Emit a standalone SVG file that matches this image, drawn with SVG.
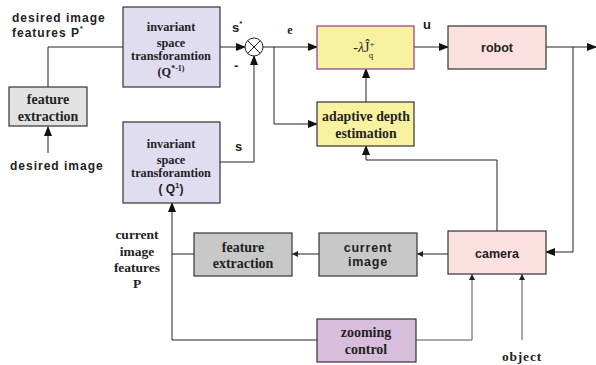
<svg xmlns="http://www.w3.org/2000/svg" width="596" height="365" viewBox="0 0 596 365">
<defs>
<style>
.box{stroke:#333;stroke-width:1.2}
.lav{fill:#e0ddf0}
.gray{fill:#c8c8c8}
.lgray{fill:#e2e2e2}
.yel{fill:#f8f2a0}
.pink{fill:#fde0e0}
.purp{fill:#d8bedc}
.ser{font-family:"Liberation Serif",serif;font-weight:bold;fill:#222;text-anchor:middle}
.san{font-family:"Liberation Sans",Arial,sans-serif;font-weight:bold;fill:#222}
.ln{fill:none;stroke:#222;stroke-width:1}
.lg{fill:none;stroke:#555;stroke-width:1}
</style>
<marker id="a" markerWidth="10" markerHeight="8" refX="9" refY="4" orient="auto" markerUnits="userSpaceOnUse">
<path d="M0,0 L10,4 L0,8 z" fill="#111"/>
</marker>
<marker id="s" markerWidth="6" markerHeight="6" refX="6" refY="3" orient="auto" markerUnits="userSpaceOnUse">
<path d="M0,0 L6,3 L0,6 z" fill="#222"/>
</marker>
</defs>

<g id="connectors">
<polyline class="ln" points="48,87 48,47 123,47"/>
<line class="ln" x1="48" y1="153" x2="48" y2="127" marker-end="url(#a)"/>
<line class="ln" x1="220" y1="47" x2="245" y2="47" marker-end="url(#a)"/>
<line class="ln" x1="263" y1="47" x2="317" y2="47" marker-end="url(#a)"/>
<polyline class="ln" points="274,47 274,124 317,124" marker-end="url(#a)"/>
<polyline class="ln" points="220,162 254,162 254,56" marker-end="url(#a)"/>
<line class="ln" x1="414" y1="47" x2="448" y2="47" marker-end="url(#a)"/>
<line class="ln" x1="546" y1="47" x2="596" y2="47" marker-end="url(#a)"/>
<polyline class="ln" points="573,47 573,252 546,252" marker-end="url(#a)"/>
<line class="ln" x1="366" y1="102" x2="366" y2="69" marker-end="url(#a)"/>
<polyline class="ln" points="497,231 497,160 366,160 366,146" marker-end="url(#a)"/>
<line class="ln" x1="448" y1="254" x2="417" y2="254" marker-end="url(#s)"/>
<line class="ln" x1="319" y1="254" x2="292" y2="254" marker-end="url(#s)"/>
<line class="ln" x1="194" y1="254" x2="172" y2="254"/>
<polyline class="ln" points="317,340 172,340 172,203" marker-end="url(#a)"/>
<polyline class="lg" points="416,340 472,340 472,274" marker-end="url(#s)"/>
<line class="lg" x1="522" y1="340" x2="522" y2="274" marker-end="url(#s)"/>
</g>

<g id="sum">
<circle cx="254" cy="47" r="9" fill="#fff" stroke="#222" stroke-width="1"/>
<line class="ln" x1="247.6" y1="40.6" x2="260.4" y2="53.4"/>
<line class="ln" x1="260.4" y1="40.6" x2="247.6" y2="53.4"/>
</g>

<g id="labels">
<text class="san" x="12" y="22" font-size="12" letter-spacing="1">desired image</text>
<text class="san" x="12" y="37" font-size="12" letter-spacing="1">features P<tspan font-size="7" dy="-6">*</tspan></text>
<text class="san" x="10" y="170" font-size="12" letter-spacing="1">desired image</text>
<text class="san" x="232" y="32" font-size="13">s<tspan font-size="8" dy="-6">*</tspan></text>
<text class="san" x="234" y="70" font-size="13">-</text>
<text class="ser" x="290" y="34" font-size="12">e</text>
<text class="san" x="235" y="151" font-size="13">s</text>
<text class="san" x="423" y="29" font-size="13">u</text>
<text class="ser" x="137" y="239" font-size="13.5">current</text>
<text class="ser" x="137" y="256" font-size="13.5">image</text>
<text class="ser" x="137" y="272" font-size="13.5">features</text>
<text class="ser" x="137" y="288" font-size="13.5">P</text>
<text class="ser" x="522" y="361" font-size="13.5" letter-spacing="0.8">object</text>
</g>

<g id="inv-top">
<rect class="box lav" x="123" y="7" width="97" height="80"/>
<text class="ser" x="171" y="31" font-size="12.3">invariant</text>
<text class="ser" x="171" y="47" font-size="12.3">space</text>
<text class="ser" x="171" y="60" font-size="12.3">transforamtion</text>
<text class="ser" x="171" y="76" font-size="12.3">(Q<tspan font-size="8" dy="-5">*-1)</tspan></text>
</g>

<g id="feat-top">
<rect class="box lgray" x="9" y="87" width="78" height="39"/>
<text class="ser" x="48" y="104" font-size="14">feature</text>
<text class="ser" x="48" y="121" font-size="14">extraction</text>
</g>

<g id="inv-bottom">
<rect class="box lav" x="123" y="122" width="97" height="81"/>
<text class="ser" x="171" y="148" font-size="12.3">invariant</text>
<text class="ser" x="171" y="164" font-size="12.3">space</text>
<text class="ser" x="171" y="177" font-size="12.3">transforamtion</text>
<text class="san" x="171" y="193" font-size="12" text-anchor="middle">( Q<tspan font-size="8" dy="-5">1</tspan><tspan dy="5">)</tspan></text>
</g>

<g id="control">
<rect x="317" y="26" width="97" height="43" class="yel" stroke="#8a3a8a" stroke-width="1.2"/>
<text x="364" y="52" font-family="Liberation Serif,serif" font-size="14" fill="#222" text-anchor="middle">-<tspan font-style="italic">λ</tspan>Ĵ<tspan font-size="9" dy="-5">+</tspan><tspan font-size="9" dx="-6" dy="11">q</tspan></text>
</g>

<g id="adaptive">
<rect class="box yel" x="317" y="102" width="97" height="44"/>
<text class="ser" x="366" y="121" font-size="13.8">adaptive depth</text>
<text class="ser" x="366" y="138" font-size="13.8">estimation</text>
</g>

<g id="robot">
<rect class="box pink" x="448" y="26" width="98" height="43"/>
<text class="san" x="497" y="52" font-size="12.5" text-anchor="middle">robot</text>
</g>

<g id="camera">
<rect class="box pink" x="448" y="231" width="98" height="43"/>
<text class="san" x="497" y="258" font-size="12.5" text-anchor="middle">camera</text>
</g>

<g id="current-image">
<rect class="box gray" x="319" y="233" width="98" height="43"/>
<text class="san" x="368" y="252" font-size="12.5" text-anchor="middle" letter-spacing="0.8">current</text>
<text class="san" x="368" y="266" font-size="12.5" text-anchor="middle" letter-spacing="0.8">image</text>
</g>

<g id="feat-bottom">
<rect class="box gray" x="194" y="233" width="98" height="43"/>
<text class="ser" x="243" y="252" font-size="14">feature</text>
<text class="ser" x="243" y="268" font-size="14">extraction</text>
</g>

<g id="zooming">
<rect class="box purp" x="317" y="319" width="99" height="43"/>
<text class="ser" x="366" y="337" font-size="14">zooming</text>
<text class="ser" x="366" y="354" font-size="14">control</text>
</g>
</svg>
